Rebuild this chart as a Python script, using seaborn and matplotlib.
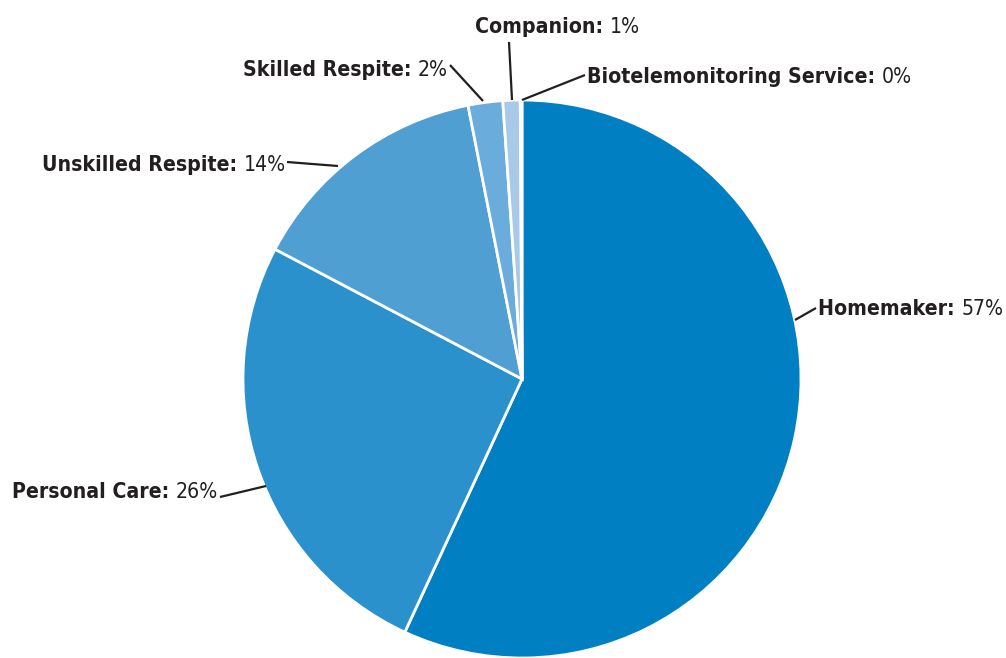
import matplotlib
matplotlib.use("Agg")
import matplotlib.pyplot as plt
from matplotlib import font_manager
import seaborn as sns

# data (percent of total)
categories = ["Homemaker", "Personal Care", "Unskilled Respite",
              "Skilled Respite", "Companion", "Biotelemonitoring Service"]
values = [56.9, 25.8, 14.2, 2.0, 1.0, 0.1]
pct_labels = ["57%", "26%", "14%", "2%", "1%", "0%"]
colors = ["#0080c2", "#2a91cc", "#4f9fd3", "#6aacdb", "#a9c9e9", "#d2e3f4"]

sns.set_theme(style="white")
plt.rcParams["font.family"] = ["DejaVu Sans"]
plt.rcParams["font.stretch"] = "condensed"

W, H = 1006, 658
fig = plt.figure(figsize=(W / 100, H / 100), dpi=100)
ax = fig.add_axes([0, 0, 1, 1])


def P(x, y):
    # pixel position (from top-left) -> data coords
    return (x, H - y)


ax.pie(values, colors=colors, startangle=90, counterclock=False,
       center=P(522, 379), radius=279,
       wedgeprops=dict(edgecolor="white", linewidth=2))
ax.set_xlim(0, W)
ax.set_ylim(0, H)
ax.set_aspect("auto")
ax.axis("off")

# label layout: (text anchor x, baseline y, side, leader start, leader end)
layout = [
    (818, 315, "right", (816, 308), (795, 320)),
    (218, 498, "left", (220, 497), (266, 486)),
    (286, 171, "left", (287, 162), (338, 166)),
    (448, 76, "left", (450, 65), (483, 101)),
    (475, 33, "right", (509, 42), (512, 100)),
    (587, 83, "right", (585, 75), (522, 100)),
]

renderer = fig.canvas.get_renderer()
txt_color = "#231f20"


def label_width(cat, pct, size):
    a = ax.text(0, 0, cat + ": ", fontsize=size, fontweight="bold")
    b = ax.text(0, 0, pct, fontsize=size)
    w = a.get_window_extent(renderer).width + b.get_window_extent(renderer).width
    a.remove()
    b.remove()
    return w


# size the labels so "Biotelemonitoring Service: 0%" spans about 325 px
fs = 18
fs = min(18, fs * 325 / label_width(categories[5], pct_labels[5], fs))

for cat, pct, (tx, ty, side, p0, p1) in zip(categories, pct_labels, layout):
    if side == "right":
        t1 = ax.text(*P(tx, ty), cat + ": ", fontsize=fs, fontweight="bold",
                     color=txt_color, ha="left", va="baseline")
        bb = t1.get_window_extent(renderer)
        ax.text(bb.x1, H - ty, pct, fontsize=fs, color=txt_color,
                ha="left", va="baseline")
    else:
        t2 = ax.text(*P(tx, ty), pct, fontsize=fs, color=txt_color,
                     ha="right", va="baseline")
        bb = t2.get_window_extent(renderer)
        ax.text(bb.x0, H - ty, cat + ": ", fontsize=fs, fontweight="bold",
                color=txt_color, ha="right", va="baseline")
    ax.plot([P(*p0)[0], P(*p1)[0]], [P(*p0)[1], P(*p1)[1]],
            color=txt_color, linewidth=1.6, solid_capstyle="butt")

fig.savefig("out.png", dpi=100)
